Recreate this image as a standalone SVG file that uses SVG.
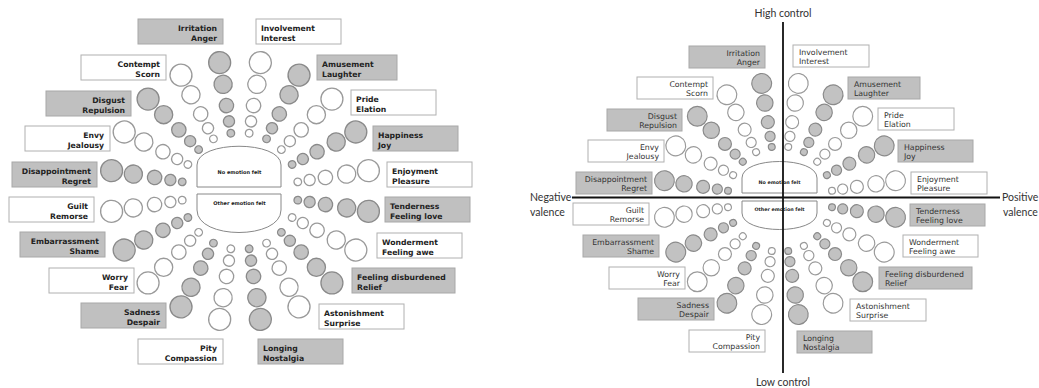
<svg xmlns="http://www.w3.org/2000/svg" xmlns:xlink="http://www.w3.org/1999/xlink" width="1039" height="388" viewBox="0 0 1039 388">
<style>
.g{fill:#c2c2c2;stroke:#8a8a8a;stroke-width:1.3}
.w{fill:#ffffff;stroke:#9a9a9a;stroke-width:1.3}
.bg{fill:#c0c0c0;stroke:#a8a8a8;stroke-width:1}
.bw{fill:#ffffff;stroke:#b0b0b0;stroke-width:1}
.lt{font-family:"DejaVu Sans",Verdana,sans-serif;font-weight:bold;font-size:7.7px;fill:#222}
.rt{font-family:"DejaVu Sans",Verdana,sans-serif;font-size:7.8px;fill:#333}
.e{text-anchor:end}
.ctr{fill:#fff;stroke:#888;stroke-width:1}
.ct{font-family:"DejaVu Sans",Verdana,sans-serif;font-weight:bold;font-size:5px;fill:#222;text-anchor:middle}
.ax{font-family:Lato,"Open Sans",sans-serif;font-size:10.5px;fill:#333}
.axl{stroke:#111;fill:none}
</style>
<defs>
<g id="sp">
<circle cx="0" cy="-130" r="11"/>
<circle cx="0" cy="-108" r="9.1"/>
<circle cx="0" cy="-86.5" r="7.2"/>
<circle cx="0" cy="-70.5" r="5.6"/>
<circle cx="0" cy="-58.5" r="3.8"/>
</g>
</defs>
<rect x="0" y="0" width="1039" height="388" fill="#ffffff"/>

<!-- LEFT WHEEL -->
<g id="left-wheel">
<g id="l-center">
<path class="ctr" d="M197,187 V165 C197,140 281,140 281,165 V187 Z"/>
<text class="ct" x="239.5" y="173.5">No emotion felt</text>
<path class="ctr" d="M197,194 H281 V210 C281,240 197,240 197,210 Z"/>
<text class="ct" x="239.5" y="205">Other emotion felt</text>
</g>
<g id="l-interest"><use xlink:href="#sp" class="w" transform="translate(240,191) rotate(9)"/><rect class="bw" x="256" y="19" width="85" height="25"/><text class="lt" x="261" y="31">Involvement</text><text class="lt" x="261" y="40.5">Interest</text></g>
<g id="l-amusement"><use xlink:href="#sp" class="g" transform="translate(240,191) rotate(27)"/><rect class="bg" x="317" y="55" width="80" height="25"/><text class="lt" x="322" y="67">Amusement</text><text class="lt" x="322" y="76.5">Laughter</text></g>
<g id="l-pride"><use xlink:href="#sp" class="w" transform="translate(240,191) rotate(45)"/><rect class="bw" x="351" y="90" width="85" height="25"/><text class="lt" x="356" y="102">Pride</text><text class="lt" x="356" y="111.5">Elation</text></g>
<g id="l-happiness"><use xlink:href="#sp" class="g" transform="translate(240,191) rotate(63)"/><rect class="bg" x="373" y="126" width="85" height="25"/><text class="lt" x="378" y="138">Happiness</text><text class="lt" x="378" y="147.5">Joy</text></g>
<g id="l-enjoyment"><use xlink:href="#sp" class="w" transform="translate(240,191) rotate(81)"/><rect class="bw" x="387" y="162" width="85" height="25"/><text class="lt" x="392" y="174">Enjoyment</text><text class="lt" x="392" y="183.5">Pleasure</text></g>
<g id="l-tenderness"><use xlink:href="#sp" class="g" transform="translate(240,191) rotate(99)"/><rect class="bg" x="385" y="197" width="85" height="25"/><text class="lt" x="390" y="209">Tenderness</text><text class="lt" x="390" y="218.5">Feeling love</text></g>
<g id="l-wonderment"><use xlink:href="#sp" class="w" transform="translate(240,191) rotate(117)"/><rect class="bw" x="377" y="233" width="85" height="25"/><text class="lt" x="382" y="245">Wonderment</text><text class="lt" x="382" y="254.5">Feeling awe</text></g>
<g id="l-relief"><use xlink:href="#sp" class="g" transform="translate(240,191) rotate(135)"/><rect class="bg" x="352" y="268" width="103" height="25"/><text class="lt" x="357" y="280">Feeling disburdened</text><text class="lt" x="357" y="289.5">Relief</text></g>
<g id="l-astonishment"><use xlink:href="#sp" class="w" transform="translate(240,191) rotate(153)"/><rect class="bw" x="319" y="304" width="85" height="25"/><text class="lt" x="324" y="316">Astonishment</text><text class="lt" x="324" y="325.5">Surprise</text></g>
<g id="l-longing"><use xlink:href="#sp" class="g" transform="translate(240,191) rotate(171)"/><rect class="bg" x="258" y="339" width="85" height="25"/><text class="lt" x="263" y="351">Longing</text><text class="lt" x="263" y="360.5">Nostalgia</text></g>
<g id="l-pity"><use xlink:href="#sp" class="w" transform="translate(240,191) rotate(189)"/><rect class="bw" x="138" y="339" width="85" height="25"/><text class="lt e" x="217" y="351">Pity</text><text class="lt e" x="217" y="360.5">Compassion</text></g>
<g id="l-sadness"><use xlink:href="#sp" class="g" transform="translate(240,191) rotate(207)"/><rect class="bg" x="81" y="303" width="85" height="25"/><text class="lt e" x="160" y="315">Sadness</text><text class="lt e" x="160" y="324.5">Despair</text></g>
<g id="l-worry"><use xlink:href="#sp" class="w" transform="translate(240,191) rotate(225)"/><rect class="bw" x="49" y="268" width="85" height="25"/><text class="lt e" x="128" y="280">Worry</text><text class="lt e" x="128" y="289.5">Fear</text></g>
<g id="l-embarrassment"><use xlink:href="#sp" class="g" transform="translate(240,191) rotate(243)"/><rect class="bg" x="20" y="232" width="85" height="25"/><text class="lt e" x="99" y="244">Embarrassment</text><text class="lt e" x="99" y="253.5">Shame</text></g>
<g id="l-guilt"><use xlink:href="#sp" class="w" transform="translate(240,191) rotate(261)"/><rect class="bw" x="9" y="197" width="85" height="25"/><text class="lt e" x="88" y="209">Guilt</text><text class="lt e" x="88" y="218.5">Remorse</text></g>
<g id="l-disappointment"><use xlink:href="#sp" class="g" transform="translate(240,191) rotate(279)"/><rect class="bg" x="12" y="162" width="85" height="25"/><text class="lt e" x="91" y="174">Disappointment</text><text class="lt e" x="91" y="183.5">Regret</text></g>
<g id="l-envy"><use xlink:href="#sp" class="w" transform="translate(240,191) rotate(297)"/><rect class="bw" x="25" y="126" width="85" height="25"/><text class="lt e" x="104" y="138">Envy</text><text class="lt e" x="104" y="147.5">Jealousy</text></g>
<g id="l-disgust"><use xlink:href="#sp" class="g" transform="translate(240,191) rotate(315)"/><rect class="bg" x="46" y="91" width="85" height="25"/><text class="lt e" x="125" y="103">Disgust</text><text class="lt e" x="125" y="112.5">Repulsion</text></g>
<g id="l-contempt"><use xlink:href="#sp" class="w" transform="translate(240,191) rotate(333)"/><rect class="bw" x="81" y="55" width="85" height="25"/><text class="lt e" x="160" y="67">Contempt</text><text class="lt e" x="160" y="76.5">Scorn</text></g>
<g id="l-irritation"><use xlink:href="#sp" class="g" transform="translate(240,191) rotate(351)"/><rect class="bg" x="138" y="19" width="85" height="25"/><text class="lt e" x="217" y="31">Irritation</text><text class="lt e" x="217" y="40.5">Anger</text></g>
</g>

<!-- RIGHT WHEEL -->
<g id="right-wheel">
<g id="r-center">
<path class="ctr" d="M742,193 V178 C742,156 817,156 817,178 V193 Z"/>
<text class="ct" x="779.5" y="183.5" style="font-size:4.8px">No emotion felt</text>
<path class="ctr" d="M742,201 H817 V213 C817,235 742,235 742,213 Z"/>
<text class="ct" x="779.5" y="211" style="font-size:4.8px">Other emotion felt</text>
</g>
<g id="r-interest"><use xlink:href="#sp" class="w" transform="translate(780,199) scale(0.9) rotate(9)"/><rect class="bw" x="793" y="45" width="76" height="22"/><text class="rt" x="799" y="55">Involvement</text><text class="rt" x="799" y="64">Interest</text></g>
<g id="r-amusement"><use xlink:href="#sp" class="g" transform="translate(780,199) scale(0.9) rotate(27)"/><rect class="bg" x="848" y="77" width="72" height="22"/><text class="rt" x="854" y="87">Amusement</text><text class="rt" x="854" y="96">Laughter</text></g>
<g id="r-pride"><use xlink:href="#sp" class="w" transform="translate(780,199) scale(0.9) rotate(45)"/><rect class="bw" x="878" y="108" width="76" height="22"/><text class="rt" x="884" y="118">Pride</text><text class="rt" x="884" y="127">Elation</text></g>
<g id="r-happiness"><use xlink:href="#sp" class="g" transform="translate(780,199) scale(0.9) rotate(63)"/><rect class="bg" x="898" y="140" width="75" height="22"/><text class="rt" x="904" y="150">Happiness</text><text class="rt" x="904" y="159">Joy</text></g>
<g id="r-enjoyment"><use xlink:href="#sp" class="w" transform="translate(780,199) scale(0.9) rotate(81)"/><rect class="bw" x="911" y="172" width="76" height="22"/><text class="rt" x="917" y="182">Enjoyment</text><text class="rt" x="917" y="191">Pleasure</text></g>
<g id="r-tenderness"><use xlink:href="#sp" class="g" transform="translate(780,199) scale(0.9) rotate(99)"/><rect class="bg" x="910" y="204" width="75" height="22"/><text class="rt" x="916" y="214">Tenderness</text><text class="rt" x="916" y="223">Feeling love</text></g>
<g id="r-wonderment"><use xlink:href="#sp" class="w" transform="translate(780,199) scale(0.9) rotate(117)"/><rect class="bw" x="903" y="235" width="75" height="22"/><text class="rt" x="909" y="245">Wonderment</text><text class="rt" x="909" y="254">Feeling awe</text></g>
<g id="r-relief"><use xlink:href="#sp" class="g" transform="translate(780,199) scale(0.9) rotate(135)"/><rect class="bg" x="879" y="267" width="93" height="22"/><text class="rt" x="885" y="277">Feeling disburdened</text><text class="rt" x="885" y="286">Relief</text></g>
<g id="r-astonishment"><use xlink:href="#sp" class="w" transform="translate(780,199) scale(0.9) rotate(153)"/><rect class="bw" x="850" y="299" width="76" height="22"/><text class="rt" x="856" y="309">Astonishment</text><text class="rt" x="856" y="318">Surprise</text></g>
<g id="r-longing"><use xlink:href="#sp" class="g" transform="translate(780,199) scale(0.9) rotate(171)"/><rect class="bg" x="797" y="331" width="75" height="22"/><text class="rt" x="803" y="341">Longing</text><text class="rt" x="803" y="350">Nostalgia</text></g>
<g id="r-pity"><use xlink:href="#sp" class="w" transform="translate(780,199) scale(0.9) rotate(189)"/><rect class="bw" x="689" y="330" width="76" height="22"/><text class="rt e" x="760" y="340">Pity</text><text class="rt e" x="760" y="349">Compassion</text></g>
<g id="r-sadness"><use xlink:href="#sp" class="g" transform="translate(780,199) scale(0.9) rotate(207)"/><rect class="bg" x="638" y="298" width="76" height="22"/><text class="rt e" x="709" y="308">Sadness</text><text class="rt e" x="709" y="317">Despair</text></g>
<g id="r-worry"><use xlink:href="#sp" class="w" transform="translate(780,199) scale(0.9) rotate(225)"/><rect class="bw" x="609" y="267" width="76" height="22"/><text class="rt e" x="680" y="277">Worry</text><text class="rt e" x="680" y="286">Fear</text></g>
<g id="r-embarrassment"><use xlink:href="#sp" class="g" transform="translate(780,199) scale(0.9) rotate(243)"/><rect class="bg" x="583" y="235" width="76" height="22"/><text class="rt e" x="654" y="245">Embarrassment</text><text class="rt e" x="654" y="254">Shame</text></g>
<g id="r-guilt"><use xlink:href="#sp" class="w" transform="translate(780,199) scale(0.9) rotate(261)"/><rect class="bw" x="573" y="203" width="76" height="22"/><text class="rt e" x="644" y="213">Guilt</text><text class="rt e" x="644" y="222">Remorse</text></g>
<g id="r-disappointment"><use xlink:href="#sp" class="g" transform="translate(780,199) scale(0.9) rotate(279)"/><rect class="bg" x="576" y="172" width="76" height="22"/><text class="rt e" x="647" y="182">Disappointment</text><text class="rt e" x="647" y="191">Regret</text></g>
<g id="r-envy"><use xlink:href="#sp" class="w" transform="translate(780,199) scale(0.9) rotate(297)"/><rect class="bw" x="588" y="140" width="76" height="22"/><text class="rt e" x="659" y="150">Envy</text><text class="rt e" x="659" y="159">Jealousy</text></g>
<g id="r-disgust"><use xlink:href="#sp" class="g" transform="translate(780,199) scale(0.9) rotate(315)"/><rect class="bg" x="607" y="109" width="75" height="22"/><text class="rt e" x="677" y="119">Disgust</text><text class="rt e" x="677" y="128">Repulsion</text></g>
<g id="r-contempt"><use xlink:href="#sp" class="w" transform="translate(780,199) scale(0.9) rotate(333)"/><rect class="bw" x="637" y="77" width="76" height="22"/><text class="rt e" x="708" y="87">Contempt</text><text class="rt e" x="708" y="96">Scorn</text></g>
<g id="r-irritation"><use xlink:href="#sp" class="g" transform="translate(780,199) scale(0.9) rotate(351)"/><rect class="bg" x="689" y="46" width="76" height="22"/><text class="rt e" x="760" y="56">Irritation</text><text class="rt e" x="760" y="65">Anger</text></g>
</g>

<g id="axes">
<line class="axl" x1="783" y1="22" x2="783" y2="373" stroke-width="1.8"/>
<line class="axl" x1="572" y1="197.5" x2="1000" y2="197.5" stroke-width="2"/>
</g>
<g id="axis-labels">
<text class="ax" x="783" y="16.5" text-anchor="middle">High control</text>
<text class="ax" x="783" y="386" text-anchor="middle">Low control</text>
<text class="ax" x="530" y="201">Negative</text>
<text class="ax" x="530" y="216">valence</text>
<text class="ax" x="1002" y="201">Positive</text>
<text class="ax" x="1003" y="216">valence</text>
</g>
</svg>
